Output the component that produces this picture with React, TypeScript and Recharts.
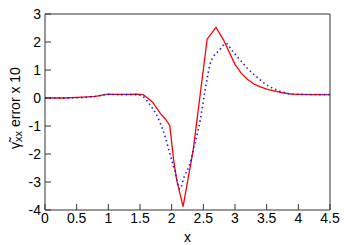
import React from 'react';
import { LineChart, Line, XAxis, YAxis } from 'recharts';

// solid red curve
const redX = [0, 0.3, 0.6, 0.8, 0.9, 1.0, 1.1, 1.3, 1.45, 1.55, 1.62, 1.7, 1.82, 1.9, 1.97, 2.03, 2.08, 2.18, 2.34, 2.56, 2.7, 2.82, 2.9, 3.0, 3.1, 3.2, 3.3, 3.4, 3.5, 3.6, 3.7, 3.8, 3.9, 4.0, 4.2, 4.5];
const redY = [0, 0, 0.03, 0.06, 0.1, 0.14, 0.13, 0.13, 0.14, 0.12, 0.0, -0.15, -0.55, -0.75, -0.98, -2.2, -2.93, -3.88, -1.86, 2.1, 2.52, 2.07, 1.68, 1.2, 0.88, 0.66, 0.5, 0.4, 0.32, 0.26, 0.21, 0.17, 0.14, 0.13, 0.12, 0.12];

// dotted blue curve
const blueX = [0, 0.5, 0.8, 1.0, 1.2, 1.45, 1.55, 1.66, 1.75, 1.82, 1.9, 1.97, 2.05, 2.13, 2.2, 2.29, 2.34, 2.45, 2.53, 2.61, 2.66, 2.75, 2.86, 2.95, 3.08, 3.2, 3.34, 3.45, 3.55, 3.7, 3.87, 4.0, 4.5];
const blueY = [0, 0.01, 0.06, 0.13, 0.12, 0.12, 0.05, -0.25, -0.55, -0.9, -1.4, -1.98, -2.6, -3.25, -2.8, -2.33, -1.86, -0.8, 0.3, 1.24, 1.48, 1.7, 1.95, 1.7, 1.36, 1.05, 0.76, 0.55, 0.4, 0.25, 0.15, 0.13, 0.12];

const xTicks = [0, 0.5, 1, 1.5, 2, 2.5, 3, 3.5, 4, 4.5];
const yTicks = [-4, -3, -2, -1, 0, 1, 2, 3];

const redData = redX.map((x, i) => ({ x, y: redY[i] }));
const blueData = blueX.map((x, i) => ({ x, y: blueY[i] }));

const font = { fontFamily: '"Liberation Sans", Arial, sans-serif', fontSize: 14, fill: '#000' };
const frame = '#333';

const YLabel = (props: any) => {
  const { viewBox } = props;
  const cx = 15;
  const cy = viewBox.y + viewBox.height / 2 - 4;
  return (
    <text
      x={cx}
      y={cy}
      transform={`rotate(-90, ${cx}, ${cy})`}
      textAnchor="middle"
      dominantBaseline="central"
      style={{ fontFamily: font.fontFamily, fontSize: 14 }}
      fill="#000"
    >
      <tspan>{'\u03B3\u0303'}</tspan>
      <tspan dy={3} fontSize={11}>xx</tspan>
      <tspan dy={-3}> error x 10</tspan>
    </text>
  );
};

export default function App() {
  return (
    <div style={{ position: 'absolute', left: 0, top: 0 }}>
      <LineChart width={350} height={245} margin={{ top: 13, right: 19, bottom: 0, left: 0 }}>
        <XAxis
          xAxisId="b"
          dataKey="x"
          type="number"
          domain={[0, 4.5]}
          ticks={xTicks}
          allowDataOverflow
          height={35}
          tickSize={-6}
          tickMargin={9}
          stroke={frame}
          tick={font}
          label={{ value: 'x', position: 'insideBottom', offset: 3.5, style: { ...font } }}
        />
        <XAxis
          xAxisId="t"
          orientation="top"
          dataKey="x"
          type="number"
          domain={[0, 4.5]}
          ticks={xTicks}
          height={1}
          tickSize={-6}
          tick={false}
          stroke={frame}
        />
        <YAxis
          yAxisId="l"
          type="number"
          domain={[-4, 3]}
          ticks={yTicks}
          allowDataOverflow
          width={45}
          tickSize={-6}
          tickMargin={10}
          stroke={frame}
          tick={font}
          label={YLabel}
        />
        <YAxis
          yAxisId="r"
          orientation="right"
          type="number"
          domain={[-4, 3]}
          ticks={yTicks}
          width={1}
          tickSize={-6}
          tick={false}
          stroke={frame}
        />
        <Line
          xAxisId="b"
          yAxisId="l"
          data={redData}
          dataKey="y"
          type="linear"
          stroke="#ff0000"
          strokeWidth={1.3}
          dot={false}
          isAnimationActive={false}
        />
        <Line
          xAxisId="b"
          yAxisId="l"
          data={blueData}
          dataKey="y"
          type="monotone"
          stroke="#1a1aff"
          strokeWidth={1.6}
          strokeDasharray="1.5 3"
          dot={false}
          isAnimationActive={false}
        />
      </LineChart>
    </div>
  );
}
